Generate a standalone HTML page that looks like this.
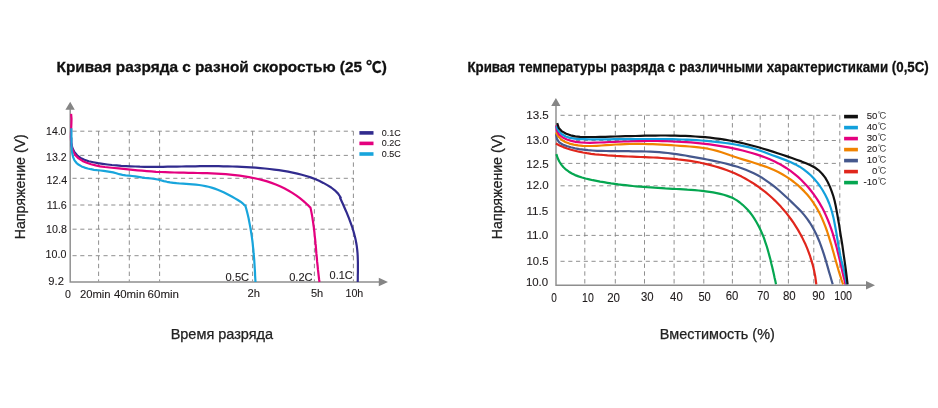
<!DOCTYPE html>
<html lang="ru"><head><meta charset="utf-8"><title>Кривые разряда</title>
<style>
html,body{margin:0;padding:0;background:#fff;}
body{width:938px;height:408px;overflow:hidden;}
svg{display:block;}
text{font-family:"Liberation Sans",sans-serif;fill:#1f1b1c;stroke:#1f1b1c;stroke-width:.1;}
.t{font-weight:bold;fill:#111;stroke:#111;stroke-width:.3;}
.ax{fill:#222;stroke:#222;stroke-width:.25;}
.cj{font-family:"Liberation Sans","IPAGothic","Noto Sans CJK JP",sans-serif;stroke:none;}
.gh{stroke:#828282;stroke-width:.9;stroke-dasharray:4.15 3.6;fill:none;}
.gv{stroke:#828282;stroke-width:.9;stroke-dasharray:4.4 3.4;fill:none;}
.a{stroke:#8e8e8e;stroke-width:1.45;fill:none;}
.c{fill:none;stroke-width:2.2;stroke-linecap:butt;stroke-linejoin:round;}
</style></head><body>
<svg width="938" height="408" viewBox="0 0 938 408">
<rect width="938" height="408" fill="#fff"/>

<g class="gh">
<path d="M72.5 131.2H353.4"/>
<path d="M72.5 155.4H353.4"/>
<path d="M72.5 178.3H353.4"/>
<path d="M72.5 205.0H353.4"/>
<path d="M72.5 229.2H353.4"/>
<path d="M72.5 255.7H353.4"/>
</g><g class="gv">
<path d="M98.6 131.2V281.5"/>
<path d="M129.3 131.2V281.5"/>
<path d="M159.6 131.2V281.5"/>
<path d="M252.6 131.2V281.5"/>
<path d="M314.4 131.2V281.5"/>
<path d="M353.4 131.2V281.5"/>
</g>
<path class="a" d="M70.2 109V282H379"/>
<path fill="#858585" d="M70.2 101.8L65.4 109.7H74.8ZM388 282L378.8 277.8V286.2Z"/>
<path class="c" stroke="#312b8e" d="M71.3 137.6L71.2 143.0L72.3 147.8L74.3 151.9L77.1 155.3L80.5 157.9L84.4 159.8L88.7 161.3L93.3 162.3L97.9 163.2L102.6 163.9L107.3 164.5L111.9 165.0L116.6 165.4L121.2 165.8L125.9 166.1L130.5 166.3L135.2 166.5L139.8 166.7L144.5 166.8L149.1 166.8L153.8 166.8L158.4 166.8L163.0 166.8L167.7 166.7L172.3 166.6L176.9 166.6L181.5 166.5L186.2 166.4L190.8 166.4L195.4 166.3L200.1 166.2L204.7 166.2L209.3 166.2L214.0 166.2L218.6 166.2L223.2 166.3L227.9 166.4L232.5 166.5L237.1 166.7L241.8 166.9L246.4 167.1L251.0 167.4L255.7 167.7L260.3 168.1L264.9 168.5L269.6 169.0L274.2 169.6L278.9 170.2L283.5 170.9L288.1 171.7L292.7 172.6L297.3 173.6L301.8 174.7L306.2 176.0L310.6 177.4L314.9 179.0L319.1 180.8L323.3 182.9L327.3 185.1L331.2 187.5L334.8 190.3L338.1 193.6L340.7 197.5L340.1 197.8L341.4 200.7L342.8 203.7L344.1 206.7L345.4 209.7L346.7 212.6L347.9 215.6L349.1 218.6L350.2 221.7L351.3 224.7L352.4 227.7L353.3 230.8L354.2 233.9L355.0 237.0L355.7 240.1L356.3 243.3L356.8 246.4L357.2 249.6L357.5 252.8L357.7 256.1L357.8 259.3L357.9 262.5L357.9 265.8L357.9 269.0L357.9 272.3L357.8 275.6L357.8 278.8L357.7 282.0"/>
<path class="c" stroke="#e4007f" d="M71.1 113.9L71.5 118.6L71.4 123.3L71.2 127.9L71.0 132.5L70.9 137.1L71.1 141.8L71.7 146.6L73.1 151.2L75.4 155.2L78.6 158.4L82.5 160.9L86.7 162.8L91.1 164.3L95.6 165.4L100.1 166.3L104.8 167.0L109.4 167.5L114.1 168.0L118.8 168.4L123.4 168.9L128.1 169.4L132.8 169.8L137.4 170.3L142.0 170.7L146.7 171.1L151.3 171.4L156.0 171.8L160.6 172.0L165.2 172.2L169.9 172.4L174.5 172.5L179.1 172.7L183.8 172.7L188.4 172.8L193.1 172.9L197.7 173.0L202.4 173.1L207.0 173.2L211.7 173.4L216.3 173.6L221.0 173.9L225.7 174.2L230.3 174.6L235.0 175.1L239.7 175.6L244.3 176.3L248.9 177.1L253.5 178.0L258.1 179.0L262.6 180.1L267.1 181.4L271.5 182.9L275.8 184.5L280.0 186.3L284.2 188.3L288.3 190.5L292.3 192.9L296.1 195.4L299.9 198.2L303.5 201.1L307.0 204.3L310.4 207.6L310.5 207.6L311.0 210.1L311.5 212.6L312.0 215.2L312.4 217.7L312.8 220.3L313.2 222.8L313.5 225.4L313.9 227.9L314.2 230.5L314.5 233.1L314.7 235.6L315.0 238.2L315.3 240.8L315.5 243.4L315.8 246.0L316.0 248.5L316.2 251.1L316.4 253.7L316.7 256.3L316.9 258.9L317.1 261.4L317.4 264.0L317.7 266.6L317.9 269.2L318.2 271.7L318.5 274.3L318.8 276.9L319.1 279.4L319.5 282.0"/>
<path class="c" stroke="#18a5dc" d="M71.3 128.3L71.4 131.6L71.4 134.9L71.4 138.0L71.4 141.2L71.5 144.3L71.6 147.5L71.9 150.7L72.4 154.1L73.2 157.4L74.5 160.4L76.4 162.8L78.8 164.8L81.6 166.4L84.6 167.6L87.7 168.5L90.8 169.2L94.0 169.8L97.2 170.2L100.4 170.5L103.6 170.9L106.9 171.3L110.0 171.8L113.2 172.4L116.3 173.2L119.3 174.2L122.5 174.8L125.6 175.3L128.9 175.6L132.1 176.0L135.3 176.4L138.4 176.9L141.6 177.4L144.8 177.8L148.0 178.1L151.2 178.5L154.4 178.9L157.6 179.5L160.7 180.3L163.8 181.1L167.0 181.8L170.1 182.4L173.3 182.8L176.5 183.2L179.7 183.5L183.0 183.7L186.2 183.9L189.4 184.1L192.6 184.4L195.9 184.7L199.1 185.0L202.2 185.5L205.4 186.1L208.5 186.8L211.6 187.6L214.7 188.6L217.7 189.7L220.7 190.9L223.6 192.2L226.5 193.7L229.4 195.2L232.2 196.8L235.0 198.4L237.8 200.0L240.5 201.7L243.0 203.7L245.4 205.9L245.4 205.9L246.3 209.0L247.1 212.1L247.9 215.2L248.6 218.3L249.2 221.5L249.8 224.6L250.4 227.8L250.9 230.9L251.4 234.1L251.9 237.3L252.3 240.4L252.7 243.6L253.0 246.8L253.4 250.0L253.6 253.2L253.9 256.4L254.2 259.6L254.4 262.8L254.6 266.0L254.8 269.2L255.0 272.4L255.1 275.6L255.3 278.8L255.5 282.0"/>
<g class="gh">
<path d="M560.5 115.3H839.8"/>
<path d="M560.5 140.5H839.8"/>
<path d="M560.5 163.4H839.8"/>
<path d="M560.5 185.8H839.8"/>
<path d="M560.5 211.7H839.8"/>
<path d="M560.5 235.4H839.8"/>
<path d="M560.5 261.3H839.8"/>
</g><g class="gv">
<path d="M584.8 115.3V284.5"/>
<path d="M615.3 115.3V284.5"/>
<path d="M644.5 115.3V284.5"/>
<path d="M674.1 115.3V284.5"/>
<path d="M703.8 115.3V284.5"/>
<path d="M732.4 115.3V284.5"/>
<path d="M760.2 115.3V284.5"/>
<path d="M788.4 115.3V284.5"/>
<path d="M813.8 115.3V284.5"/>
<path d="M839.8 115.3V284.5"/>
</g>
<path class="a" d="M556 106V285.2H867"/>
<path fill="#858585" d="M555.9 98L551.2 105.9H560.5ZM875 285.2L866 281V289.4Z"/>
<path class="c" stroke="#05a650" d="M556.4 154.1L557.6 158.0L559.3 161.5L561.3 164.6L563.5 167.3L566.1 169.7L568.9 171.7L571.9 173.5L575.1 175.1L578.5 176.4L582.0 177.5L585.5 178.5L589.2 179.4L592.8 180.2L596.5 180.9L600.1 181.6L603.8 182.2L607.4 182.8L611.1 183.4L614.7 183.9L618.3 184.4L621.9 184.8L625.5 185.2L629.1 185.6L632.7 186.0L636.3 186.3L640.0 186.6L643.6 186.9L647.2 187.2L650.8 187.4L654.4 187.7L658.0 187.9L661.7 188.1L665.3 188.4L668.9 188.6L672.6 188.8L676.3 189.0L679.9 189.2L683.6 189.4L687.3 189.7L691.0 189.9L694.8 190.2L698.5 190.5L702.1 190.9L705.8 191.3L709.5 191.8L713.1 192.4L716.7 193.1L720.2 193.9L723.7 194.8L727.2 195.9L730.5 197.1L733.8 198.6L736.9 200.4L739.8 202.5L742.6 204.8L745.2 207.2L747.7 209.8L750.0 212.5L752.2 215.4L754.2 218.4L756.1 221.5L757.9 224.7L759.6 228.0L761.1 231.3L762.6 234.7L764.0 238.2L765.2 241.8L766.4 245.3L767.5 248.9L768.5 252.5L769.5 256.1L770.5 259.8L771.3 263.4L772.2 266.9L773.0 270.5L773.8 274.0L774.5 277.4L775.3 280.8L776.0 284.2"/>
<path class="c" stroke="#e0261c" d="M555.9 143.6L559.6 145.4L563.4 147.1L567.2 148.5L571.1 149.7L575.0 150.8L579.0 151.7L583.0 152.5L587.0 153.2L591.1 153.8L595.2 154.3L599.3 154.7L603.4 155.0L607.5 155.4L611.6 155.6L615.8 155.9L619.9 156.1L624.1 156.3L628.2 156.5L632.4 156.6L636.5 156.8L640.7 157.0L644.9 157.1L649.0 157.3L653.2 157.5L657.3 157.7L661.5 158.0L665.6 158.3L669.8 158.6L673.9 158.9L678.0 159.4L682.2 159.8L686.3 160.3L690.4 160.9L694.4 161.6L698.5 162.3L702.6 163.2L706.6 164.1L710.6 165.1L714.6 166.2L718.6 167.4L722.5 168.6L726.4 170.0L730.3 171.5L734.1 173.1L737.8 174.8L741.6 176.6L745.2 178.5L748.8 180.6L752.3 182.7L755.8 185.0L759.2 187.3L762.5 189.8L765.8 192.4L768.9 195.0L772.0 197.8L775.0 200.6L777.9 203.6L780.8 206.6L783.5 209.7L786.2 212.9L788.7 216.2L791.2 219.5L793.6 222.9L795.8 226.4L798.0 229.9L800.0 233.5L802.0 237.1L803.8 240.9L805.6 244.6L807.2 248.4L808.7 252.3L810.1 256.2L811.3 260.1L812.5 264.1L813.5 268.1L814.4 272.1L815.2 276.2L815.8 280.3L816.3 284.4"/>
<path class="c" stroke="#45588d" d="M556.1 134.1L556.9 139.0L559.2 142.3L562.6 144.5L566.6 146.0L570.7 147.3L575.0 148.3L579.3 149.1L583.7 149.7L588.1 150.2L592.6 150.5L597.1 150.8L601.6 150.9L606.1 151.0L610.6 151.1L615.0 151.2L619.5 151.2L624.0 151.2L628.4 151.2L632.8 151.3L637.2 151.3L641.7 151.4L646.1 151.5L650.4 151.7L654.8 151.9L659.2 152.2L663.6 152.6L667.9 153.0L672.2 153.6L676.6 154.2L680.9 154.8L685.3 155.5L689.6 156.3L694.0 157.1L698.3 157.9L702.7 158.7L707.1 159.5L711.5 160.4L715.9 161.3L720.2 162.3L724.6 163.3L728.9 164.4L733.2 165.6L737.5 166.8L741.7 168.2L745.8 169.8L749.8 171.4L753.8 173.3L757.7 175.2L761.5 177.4L765.1 179.8L768.7 182.3L772.2 184.9L775.7 187.7L779.1 190.5L782.4 193.5L785.7 196.5L789.0 199.5L792.2 202.6L795.4 205.7L798.6 208.9L801.7 212.1L804.5 215.4L807.2 218.9L809.7 222.5L812.0 226.2L814.1 230.0L816.1 233.9L817.9 238.0L819.6 242.0L821.1 246.2L822.6 250.4L824.0 254.6L825.3 258.9L826.6 263.2L827.8 267.4L829.0 271.7L830.3 276.0L831.5 280.2L832.7 284.3"/>
<path class="c" stroke="#f08300" d="M556.0 132.4L558.4 136.6L561.5 139.8L565.3 142.0L569.4 143.6L573.7 144.6L578.2 145.3L582.7 145.8L587.4 146.0L592.0 146.0L596.7 145.8L601.4 145.5L606.2 145.2L610.9 144.9L615.7 144.5L620.4 144.3L625.0 144.1L629.7 144.0L634.3 143.9L639.0 143.9L643.6 144.0L648.2 144.1L652.8 144.2L657.3 144.4L661.9 144.6L666.5 144.9L671.1 145.2L675.7 145.5L680.3 145.8L684.9 146.1L689.6 146.5L694.2 146.9L698.8 147.4L703.4 148.0L708.0 148.7L712.5 149.7L717.0 150.9L721.5 152.2L725.9 153.7L730.2 155.3L734.6 156.8L739.1 158.2L743.5 159.6L747.9 160.9L752.4 162.3L756.8 163.7L761.2 165.1L765.5 166.6L769.8 168.3L774.0 170.1L778.2 172.0L782.3 174.2L786.2 176.6L790.1 179.2L793.9 182.0L797.5 184.9L801.0 188.1L804.3 191.4L807.4 194.8L810.3 198.4L813.0 202.2L815.5 206.0L817.8 209.9L820.0 214.0L821.9 218.1L823.7 222.4L825.4 226.6L827.0 231.0L828.4 235.4L829.8 239.8L831.2 244.3L832.4 248.8L833.7 253.3L834.9 257.8L836.2 262.3L837.5 266.8L838.8 271.2L840.2 275.6L841.6 280.0L843.1 284.3"/>
<path class="c" stroke="#e4007f" d="M556.2 125.4L556.9 130.7L559.3 134.7L562.8 137.5L566.9 139.5L571.3 140.9L575.8 141.8L580.4 142.4L585.1 142.7L589.9 142.8L594.7 142.7L599.5 142.5L604.4 142.3L609.2 142.0L614.1 141.8L618.9 141.7L623.8 141.5L628.6 141.4L633.4 141.2L638.2 141.1L643.1 141.1L647.9 141.0L652.7 141.0L657.5 141.0L662.3 141.1L667.1 141.2L671.8 141.4L676.6 141.6L681.4 141.8L686.1 142.1L690.9 142.4L695.6 142.8L700.4 143.3L705.1 143.8L709.8 144.4L714.5 145.1L719.2 145.8L723.9 146.6L728.6 147.4L733.3 148.4L737.9 149.4L742.6 150.5L747.2 151.7L751.8 153.0L756.4 154.4L760.9 155.9L765.4 157.5L769.8 159.3L774.2 161.3L778.4 163.4L782.6 165.7L786.6 168.2L790.5 170.9L794.3 173.8L798.0 176.9L801.6 180.2L804.9 183.7L808.2 187.3L811.2 191.0L814.1 194.9L816.9 198.9L819.4 202.9L821.8 207.1L824.0 211.3L826.0 215.6L827.9 220.0L829.6 224.4L831.2 228.8L832.7 233.3L834.0 237.9L835.3 242.5L836.6 247.1L837.7 251.7L838.9 256.4L840.0 261.0L841.1 265.7L842.1 270.4L843.2 275.1L844.4 279.7L845.5 284.4"/>
<path class="c" stroke="#12a0dc" d="M556.3 126.2L558.7 130.9L561.9 134.2L565.7 136.5L570.0 137.9L574.6 138.7L579.4 139.1L584.4 139.2L589.4 139.3L594.3 139.3L599.3 139.3L604.2 139.3L609.1 139.3L614.1 139.2L619.0 139.2L623.9 139.1L628.7 139.1L633.6 139.1L638.5 139.0L643.3 139.0L648.2 139.0L653.1 139.0L657.9 139.0L662.7 139.0L667.6 139.1L672.4 139.2L677.2 139.3L682.1 139.5L686.9 139.7L691.7 139.9L696.5 140.2L701.3 140.5L706.2 140.9L711.0 141.4L715.8 141.8L720.6 142.4L725.4 143.0L730.3 143.7L735.1 144.5L739.9 145.3L744.7 146.3L749.5 147.4L754.1 148.7L758.7 150.2L763.3 151.8L767.8 153.5L772.4 155.2L777.1 156.9L781.7 158.6L786.4 160.4L790.9 162.2L795.4 164.4L799.6 166.7L803.6 169.4L807.4 172.4L811.0 175.5L814.3 179.0L817.4 182.6L820.2 186.5L822.8 190.5L825.2 194.7L827.3 199.0L829.2 203.5L830.8 208.0L832.2 212.7L833.4 217.4L834.4 222.2L835.3 227.0L836.2 231.9L837.0 236.7L837.8 241.6L838.6 246.5L839.5 251.3L840.4 256.0L841.5 260.8L842.7 265.4L843.9 270.1L845.0 274.7L845.9 279.5L846.7 284.3"/>
<path class="c" stroke="#111111" d="M557.2 123.1L558.8 128.0L562.0 131.4L566.2 133.8L570.6 135.3L575.3 136.3L580.1 136.8L585.1 137.0L590.1 137.0L595.2 137.0L600.2 136.9L605.2 136.8L610.3 136.6L615.3 136.5L620.4 136.4L625.4 136.2L630.4 136.1L635.4 136.0L640.5 135.8L645.5 135.7L650.5 135.6L655.5 135.6L660.5 135.5L665.5 135.5L670.5 135.6L675.4 135.7L680.4 135.8L685.4 135.9L690.3 136.2L695.3 136.5L700.2 136.8L705.1 137.2L710.0 137.7L714.9 138.3L719.8 138.9L724.7 139.7L729.5 140.5L734.4 141.4L739.2 142.4L744.1 143.5L748.9 144.7L753.7 146.0L758.5 147.3L763.3 148.7L768.0 150.1L772.8 151.6L777.6 153.2L782.3 154.8L787.1 156.4L791.9 158.0L796.6 159.7L801.4 161.4L806.0 163.2L810.5 165.2L814.8 167.5L818.7 170.3L822.1 173.7L825.2 177.6L827.7 182.0L829.9 186.6L831.7 191.3L833.3 196.0L834.6 200.8L835.7 205.7L836.6 210.6L837.5 215.5L838.3 220.4L839.2 225.3L839.9 230.2L840.7 235.1L841.5 240.0L842.3 244.9L843.0 249.9L843.7 254.8L844.4 259.7L845.1 264.6L845.8 269.6L846.4 274.5L847.0 279.5L847.6 284.4"/>
<text class="t" x="56.60" y="71.80" font-size="15.3" textLength="330.20" lengthAdjust="spacingAndGlyphs" style="font-family:'Liberation Sans','Noto Sans CJK SC',sans-serif">Кривая разряда с разной скоростью (25 ℃)</text>
<text class="t" x="467.43" y="71.80" font-size="15.3" textLength="461.35" lengthAdjust="spacingAndGlyphs">Кривая температуры разряда с различными характеристиками (0,5C)</text>
<text class="ax" x="170.65" y="338.70" font-size="13.8" textLength="102.51" lengthAdjust="spacingAndGlyphs">Время разряда</text>
<text class="ax" x="659.75" y="338.70" font-size="13.8" textLength="115.07" lengthAdjust="spacingAndGlyphs">Вместимость (%)</text>
<text class="ax" transform="translate(24.70 239.33) rotate(-90)" font-size="13.8" textLength="105.14" lengthAdjust="spacingAndGlyphs">Напряжение (V)</text>
<text class="ax" transform="translate(502.10 239.13) rotate(-90)" font-size="13.8" textLength="104.94" lengthAdjust="spacingAndGlyphs">Напряжение (V)</text>
<text  x="46.10" y="135.40" font-size="11.3" textLength="20.26" lengthAdjust="spacingAndGlyphs">14.0</text>
<text  x="46.10" y="161.00" font-size="11.3" textLength="20.56" lengthAdjust="spacingAndGlyphs">13.2</text>
<text  x="46.50" y="183.70" font-size="11.3" textLength="20.77" lengthAdjust="spacingAndGlyphs">12.4</text>
<text  x="46.70" y="209.20" font-size="11.3" textLength="20.17" lengthAdjust="spacingAndGlyphs">11.6</text>
<text  x="46.10" y="232.70" font-size="11.3" textLength="20.77" lengthAdjust="spacingAndGlyphs">10.8</text>
<text  x="45.60" y="258.30" font-size="11.3" textLength="20.77" lengthAdjust="spacingAndGlyphs">10.0</text>
<text  x="48.30" y="284.80" font-size="11.3" textLength="15.58" lengthAdjust="spacingAndGlyphs">9.2</text>
<text  x="65.00" y="297.60" font-size="11.2" textLength="5.91" lengthAdjust="spacingAndGlyphs">0</text>
<text  x="79.90" y="298.00" font-size="11.2" textLength="30.72" lengthAdjust="spacingAndGlyphs">20min</text>
<text  x="113.90" y="297.80" font-size="11.2" textLength="31.13" lengthAdjust="spacingAndGlyphs">40min</text>
<text  x="147.60" y="297.60" font-size="11.2" textLength="31.43" lengthAdjust="spacingAndGlyphs">60min</text>
<text  x="247.40" y="297.00" font-size="11.2" textLength="12.52" lengthAdjust="spacingAndGlyphs">2h</text>
<text  x="310.90" y="297.00" font-size="11.2" textLength="12.32" lengthAdjust="spacingAndGlyphs">5h</text>
<text  x="345.50" y="297.00" font-size="11.2" textLength="17.81" lengthAdjust="spacingAndGlyphs">10h</text>
<text  x="225.60" y="280.80" font-size="11.8" textLength="23.55" lengthAdjust="spacingAndGlyphs">0.5C</text>
<text  x="289.20" y="280.80" font-size="11.8" textLength="23.45" lengthAdjust="spacingAndGlyphs">0.2C</text>
<text  x="329.60" y="279.30" font-size="11.8" textLength="23.15" lengthAdjust="spacingAndGlyphs">0.1C</text>
<rect x="359.4" y="131.1" width="14.1" height="3.6" fill="#312b8e"/>
<text  x="381.70" y="136.00" font-size="9.6" textLength="18.93" lengthAdjust="spacingAndGlyphs" stroke="none">0.1C</text>
<rect x="359.4" y="141.6" width="14.1" height="3.6" fill="#e4007f"/>
<text  x="381.70" y="146.30" font-size="9.6" textLength="18.93" lengthAdjust="spacingAndGlyphs" stroke="none">0.2C</text>
<rect x="359.4" y="152.2" width="14.1" height="3.6" fill="#18a5dc"/>
<text  x="381.70" y="156.80" font-size="9.6" textLength="18.93" lengthAdjust="spacingAndGlyphs" stroke="none">0.5C</text>
<text  x="526.20" y="119.20" font-size="11.3" textLength="22.59" lengthAdjust="spacingAndGlyphs">13.5</text>
<text  x="526.20" y="144.20" font-size="11.3" textLength="22.59" lengthAdjust="spacingAndGlyphs">13.0</text>
<text  x="526.20" y="167.50" font-size="11.3" textLength="22.59" lengthAdjust="spacingAndGlyphs">12.5</text>
<text  x="526.20" y="189.40" font-size="11.3" textLength="22.59" lengthAdjust="spacingAndGlyphs">12.0</text>
<text  x="526.40" y="215.30" font-size="11.3" textLength="21.89" lengthAdjust="spacingAndGlyphs">11.5</text>
<text  x="526.40" y="238.50" font-size="11.3" textLength="21.89" lengthAdjust="spacingAndGlyphs">11.0</text>
<text  x="526.60" y="264.70" font-size="11.3" textLength="21.88" lengthAdjust="spacingAndGlyphs">10.5</text>
<text  x="525.90" y="286.00" font-size="11.3" textLength="22.29" lengthAdjust="spacingAndGlyphs">10.0</text>
<text  x="551.20" y="301.50" font-size="11.9" textLength="5.57" lengthAdjust="spacingAndGlyphs">0</text>
<text  x="582.10" y="301.50" font-size="11.9" textLength="11.66" lengthAdjust="spacingAndGlyphs">10</text>
<text  x="607.20" y="301.90" font-size="11.9" textLength="12.82" lengthAdjust="spacingAndGlyphs">20</text>
<text  x="641.00" y="300.70" font-size="11.9" textLength="12.63" lengthAdjust="spacingAndGlyphs">30</text>
<text  x="670.10" y="300.70" font-size="11.9" textLength="12.63" lengthAdjust="spacingAndGlyphs">40</text>
<text  x="698.40" y="300.70" font-size="11.9" textLength="12.34" lengthAdjust="spacingAndGlyphs">50</text>
<text  x="725.70" y="300.40" font-size="11.9" textLength="12.63" lengthAdjust="spacingAndGlyphs">60</text>
<text  x="757.30" y="299.70" font-size="11.9" textLength="12.05" lengthAdjust="spacingAndGlyphs">70</text>
<text  x="783.00" y="300.40" font-size="11.9" textLength="12.73" lengthAdjust="spacingAndGlyphs">80</text>
<text  x="812.20" y="300.40" font-size="11.9" textLength="12.63" lengthAdjust="spacingAndGlyphs">90</text>
<text  x="834.20" y="300.40" font-size="11.9" textLength="17.85" lengthAdjust="spacingAndGlyphs">100</text>
<rect x="844.1" y="114.8" width="13.8" height="3.6" fill="#111111"/>
<text font-size="9.6" stroke="none"><tspan x="877.4" y="118.9" text-anchor="end">50</tspan><tspan class="cj" x="877.7" y="118.6" text-anchor="start" font-size="9.2" fill="#3a3a3a">℃</tspan></text>
<rect x="844.1" y="125.8" width="13.8" height="3.6" fill="#12a0dc"/>
<text font-size="9.6" stroke="none"><tspan x="877.4" y="129.9" text-anchor="end">40</tspan><tspan class="cj" x="877.7" y="129.6" text-anchor="start" font-size="9.2" fill="#3a3a3a">℃</tspan></text>
<rect x="844.1" y="136.8" width="13.8" height="3.6" fill="#e4007f"/>
<text font-size="9.6" stroke="none"><tspan x="877.4" y="140.9" text-anchor="end">30</tspan><tspan class="cj" x="877.7" y="140.6" text-anchor="start" font-size="9.2" fill="#3a3a3a">℃</tspan></text>
<rect x="844.1" y="147.8" width="13.8" height="3.6" fill="#f08300"/>
<text font-size="9.6" stroke="none"><tspan x="877.4" y="151.9" text-anchor="end">20</tspan><tspan class="cj" x="877.7" y="151.6" text-anchor="start" font-size="9.2" fill="#3a3a3a">℃</tspan></text>
<rect x="844.1" y="158.8" width="13.8" height="3.6" fill="#45588d"/>
<text font-size="9.6" stroke="none"><tspan x="877.4" y="162.9" text-anchor="end">10</tspan><tspan class="cj" x="877.7" y="162.6" text-anchor="start" font-size="9.2" fill="#3a3a3a">℃</tspan></text>
<rect x="844.1" y="169.8" width="13.8" height="3.6" fill="#e0261c"/>
<text font-size="9.6" stroke="none"><tspan x="877.4" y="173.9" text-anchor="end">0</tspan><tspan class="cj" x="877.7" y="173.6" text-anchor="start" font-size="9.2" fill="#3a3a3a">℃</tspan></text>
<rect x="844.1" y="180.8" width="13.8" height="3.6" fill="#05a650"/>
<text font-size="9.6" stroke="none"><tspan x="877.4" y="184.9" text-anchor="end">-10</tspan><tspan class="cj" x="877.7" y="184.6" text-anchor="start" font-size="9.2" fill="#3a3a3a">℃</tspan></text>
</svg></body></html>
